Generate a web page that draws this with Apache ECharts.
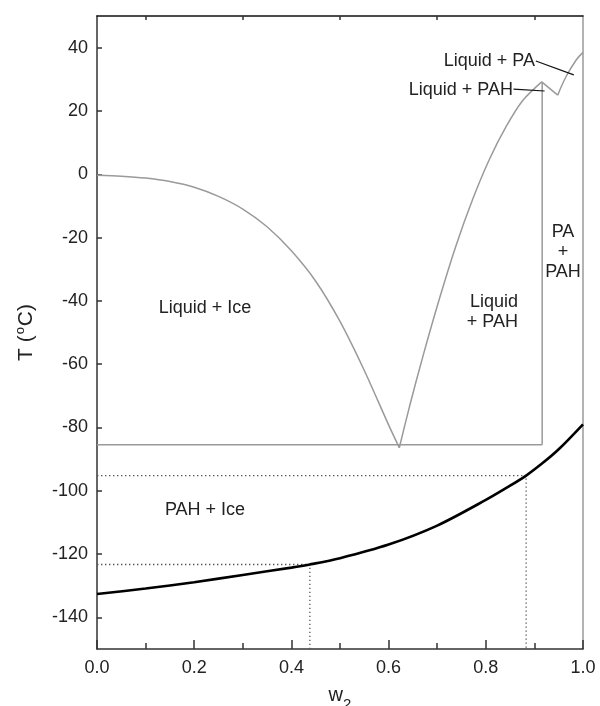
<!DOCTYPE html>
<html>
<head>
<meta charset="utf-8">
<script src="https://cdn.jsdelivr.net/npm/echarts@6/dist/echarts.min.js"></script>
<style>
  html, body { margin: 0; padding: 0; background: #fff; }
  #phase { width: 600px; height: 706px; }
</style>
</head>
<body>
<div id="phase"></div>
<script>
// liquidus, ice branch (w2, T in degC)
var iceW = [0, 0.05, 0.1, 0.15, 0.2, 0.25, 0.3, 0.35, 0.4, 0.45, 0.5, 0.55, 0.6, 0.622]
var iceT = [-0.3, -0.6, -1.2, -2.3, -4.1, -7.0, -11.0, -16.6, -24.2, -33.8, -46.5, -62.0, -79.2, -86.4]
// liquidus, PAH branch
var pahW = [0.622, 0.643, 0.671, 0.705, 0.739, 0.774, 0.808, 0.842, 0.876, 0.915]
var pahT = [-86.4, -73.4, -57.3, -39.1, -22.4, -7.5, 4.9, 15.1, 23.3, 29.2]
// liquidus, PA branch (peak -> dip is straight, dip -> pure PA is curved)
var paDropW = [0.915, 0.948]
var paDropT = [29.2, 25.0]
var paW = [0.948, 0.965, 0.986, 1.0]
var paT = [25.0, 30.8, 36.1, 38.5]
// glass transition curve
var glassW = [0, 0.1, 0.2, 0.3, 0.4, 0.438, 0.5, 0.6, 0.7, 0.8, 0.85, 0.883, 0.915, 0.95, 1.0]
var glassT = [-132.6, -130.9, -128.9, -126.6, -124.3, -123.3, -121.3, -117.0, -111.0, -102.9, -98.4, -95.2, -91.5, -86.9, -79.0]
// invariant lines
var eutecticT = -85.5
var peritecticW = 0.916
var peritecticT = 29.2
// dotted read-off points on the glass curve
var readW = [0.438, 0.883]
var readT = [-123.3, -95.2]
// leader lines for the small labels
var paLeader = [[0.903, 35.8], [0.981, 31.4]]
var pahLeader = [[0.857, 26.9], [0.921, 26.3]]
// tick labels
var xTicks = [0, 0.2, 0.4, 0.6, 0.8, 1.0]
var yTicks = [-140, -120, -100, -80, -60, -40, -20, 0, 20, 40]

var FONT = 'Liberation Sans, Arial, Helvetica, sans-serif'
var GRAY = '#9a9a9a'

function pairs (xs, ys) {
  return xs.map(function (x, i) { return [x, ys[i]] })
}

function lineSeries (data, color, width, extra) {
  var s = {
    type: 'line',
    data: data,
    symbol: 'none',
    silent: true,
    animation: false,
    lineStyle: { color: color, width: width }
  }
  for (var k in extra) s[k] = extra[k]
  return s
}

var dotted = { color: '#555', width: 1.3, type: [1.4, 2.6] }

var series = [
  lineSeries(pairs(iceW, iceT), GRAY, 1.5, { smooth: 0.3 }),
  lineSeries(pairs(pahW, pahT), GRAY, 1.5, { smooth: 0.3 }),
  lineSeries(pairs(paDropW, paDropT), GRAY, 1.5, {}),
  lineSeries(pairs(paW, paT), GRAY, 1.5, { smooth: 0.4 }),
  lineSeries([[0, eutecticT], [peritecticW, eutecticT]], GRAY, 1.5, {}),
  lineSeries([[peritecticW, eutecticT], [peritecticW, peritecticT]], GRAY, 1.5, {}),
  lineSeries(pairs(glassW, glassT), '#000', 2.6, { smooth: 0.3, z: 5 })
]
readW.forEach(function (w, i) {
  var s = lineSeries([[0, readT[i]], [w, readT[i]], [w, -150]], '#555', 1.3, {})
  s.lineStyle = dotted
  series.push(s)
})
series.push(lineSeries(paLeader, '#111', 1.2, {}))
series.push(lineSeries(pahLeader, '#111', 1.2, {}))

function txt (text, x, y, align, extra) {
  var st = {
    text: text,
    fill: '#222',
    font: '18px ' + FONT,
    align: align,
    verticalAlign: 'middle',
    lineHeight: 20
  }
  for (var k in extra) st[k] = extra[k]
  return { type: 'text', x: x, y: y, z: 10, style: st }
}

var chart = echarts.init(document.getElementById('phase'), null, { renderer: 'canvas' })
var option = {
  animation: false,
  backgroundColor: '#fff',
  grid: { left: 97, right: 17, top: 16, bottom: 57, outerBoundsMode: 'none' },
  xAxis: [
    {
      type: 'value',
      position: 'bottom',
      min: 0,
      max: 1,
      interval: 0.2,
      name: '{w|w}{s|2}',
      nameLocation: 'middle',
      nameGap: 30,
      nameTextStyle: {
        rich: {
          w: { fontSize: 20, fontFamily: FONT, color: '#222' },
          s: { fontSize: 15, fontFamily: FONT, color: '#222', padding: [18, 0, 0, 0] }
        }
      },
      axisLine: { onZero: false, lineStyle: { color: '#333', width: 1.5 } },
      axisTick: { inside: true, length: 9, lineStyle: { color: '#333', width: 1.5 } },
      minorTick: { show: true, splitNumber: 2, length: 6, lineStyle: { color: '#333', width: 1.5 } },
      splitLine: { show: false },
      axisLabel: {
        fontSize: 18,
        fontFamily: FONT,
        color: '#222',
        margin: 10,
        customValues: xTicks,
        formatter: function (v) { return v.toFixed(1) }
      }
    },
    {
      type: 'value',
      position: 'top',
      min: 0,
      max: 1,
      interval: 0.2,
      axisLine: { onZero: false, lineStyle: { color: '#111', width: 1.5 } },
      axisTick: { show: false, inside: true },
      minorTick: { show: true, splitNumber: 2, length: 4, lineStyle: { color: '#333', width: 1.5 } },
      splitLine: { show: false },
      axisLabel: { show: false }
    }
  ],
  yAxis: [
    {
      type: 'value',
      position: 'left',
      min: -150,
      max: 50,
      name: '{a|T (}{o|o}{a|C)}',
      nameLocation: 'middle',
      nameGap: 58,
      nameRotate: 90,
      nameTextStyle: {
        rich: {
          a: { fontSize: 21, fontFamily: FONT, color: '#222' },
          o: { fontSize: 13, fontFamily: FONT, color: '#222', padding: [0, 1, 12, 1] }
        }
      },
      axisLine: { onZero: false, lineStyle: { color: '#333', width: 1.5 } },
      axisTick: { inside: true, length: 5, customValues: yTicks, lineStyle: { color: '#333', width: 1.5 } },
      splitLine: { show: false },
      axisLabel: { fontSize: 18, fontFamily: FONT, color: '#222', margin: 9, customValues: yTicks }
    },
    {
      type: 'value',
      position: 'right',
      min: -150,
      max: 50,
      axisLine: { show: true, onZero: false, lineStyle: { color: GRAY, width: 1.5 } },
      axisTick: { show: false },
      splitLine: { show: false },
      axisLabel: { show: false }
    }
  ],
  series: series,
  graphic: [
    txt('Liquid + Ice', 205, 308, 'center'),
    txt('PAH + Ice', 205, 510, 'center'),
    txt('Liquid\n+ PAH', 518, 312, 'right'),
    txt('PA\n+\nPAH', 563, 252, 'center'),
    txt('Liquid + PA', 535, 61, 'right'),
    txt('Liquid + PAH', 513, 90, 'right')
  ]
}
chart.setOption(option)
</script>
</body>
</html>
